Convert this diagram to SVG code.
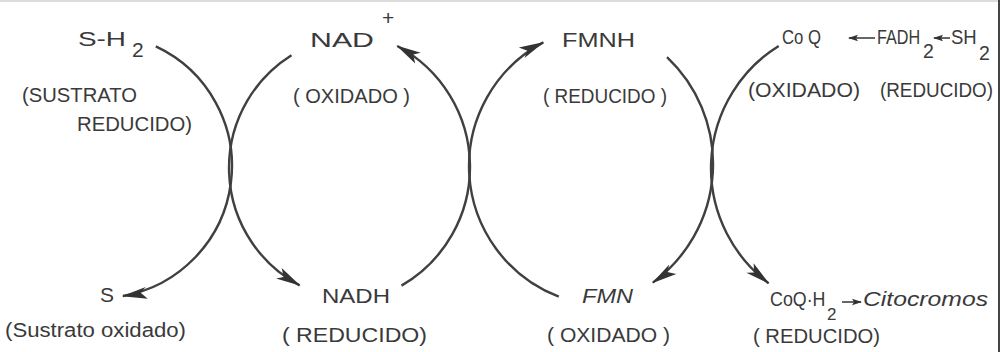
<svg xmlns="http://www.w3.org/2000/svg" width="1008" height="352" viewBox="0 0 1008 352">
<defs>
<style>
text{font-family:"Liberation Sans",Arial,sans-serif;fill:#3a3a3a}
.m{font-size:21px}
.l{font-size:19.5px}
.i{font-style:italic}
.arc{fill:none;stroke:#404040;stroke-width:2.4}
.sm{fill:none;stroke:#404040;stroke-width:1.6}
</style>
<marker id="ah" markerUnits="userSpaceOnUse" markerWidth="30" markerHeight="14" refX="0" refY="0" viewBox="-26 -7 30 14" orient="auto" overflow="visible">
<path d="M1,0 L-24,-7 L-18,0 L-24,5 Z" fill="#333"/>
</marker>
<marker id="as" markerUnits="userSpaceOnUse" markerWidth="12" markerHeight="8" refX="0" refY="0" viewBox="-10 -4 12 8" orient="auto" overflow="visible">
<path d="M1,0 L-9,-3.2 L-7,0 L-9,3.2 Z" fill="#333"/>
</marker>
</defs>
<rect width="1008" height="352" fill="#fff"/>
<line x1="0" y1="1" x2="1000" y2="1" stroke="#dcdcdc" stroke-width="2"/>
<line x1="999" y1="0" x2="999" y2="352" stroke="#444" stroke-width="2"/>

<g id="connectors">
<path class="arc" d="M155.8,46.4 A132,132 0 0 1 122.9,296" marker-end="url(#ah)"/>
<path class="arc" d="M291.5,55.2 A133,133 0 0 0 299.6,285.4" marker-end="url(#ah)"/>
<path class="arc" d="M401.5,285.6 A137,137 0 0 0 397.3,46" marker-end="url(#ah)"/>
<path class="arc" d="M558.8,296.7 A140,140 0 0 1 543.3,42.4" marker-end="url(#ah)"/>
<path class="arc" d="M667,57.1 A147,147 0 0 1 652.8,282.6" marker-end="url(#ah)"/>
<path class="arc" d="M778.7,45.9 A144,144 0 0 0 768.6,283.2" marker-end="url(#ah)"/>
<line class="sm" x1="875" y1="38" x2="849" y2="38" marker-end="url(#as)"/>
<line class="sm" x1="950" y1="38" x2="934" y2="38" marker-end="url(#as)"/>
<line class="sm" x1="842" y1="302" x2="861" y2="302" marker-end="url(#as)"/>
</g>

<g id="sh2">
<text class="m" x="78" y="46"><tspan textLength="48" lengthAdjust="spacingAndGlyphs">S-H</tspan><tspan x="132" y="57">2</tspan></text>
<text class="l" x="22" y="102" textLength="115" lengthAdjust="spacingAndGlyphs">(SUSTRATO</text>
<text class="l" x="77" y="131" textLength="115" lengthAdjust="spacingAndGlyphs">REDUCIDO)</text>
</g>

<g id="nadplus">
<text class="m" x="310" y="47"><tspan textLength="64" lengthAdjust="spacingAndGlyphs">NAD</tspan><tspan x="382" y="25">+</tspan></text>
<text class="l" x="293" y="103" textLength="117" lengthAdjust="spacingAndGlyphs">( OXIDADO )</text>
</g>

<g id="fmnh">
<text class="m" x="562" y="47" textLength="73" lengthAdjust="spacingAndGlyphs">FMNH</text>
<text class="l" x="543" y="103" textLength="124" lengthAdjust="spacingAndGlyphs">( REDUCIDO )</text>
</g>

<g id="coq">
<text class="l" x="782" y="44" textLength="39" lengthAdjust="spacingAndGlyphs">Co Q</text>
<text class="l" x="748" y="97" textLength="112" lengthAdjust="spacingAndGlyphs">(OXIDADO)</text>
</g>

<g id="fadh2">
<text class="l" transform="translate(877,44) scale(0.83,1)">FADH</text>
<text class="l" x="923" y="58">2</text>
</g>

<g id="sh2b">
<text class="l" transform="translate(951,44) scale(0.95,1)">SH</text>
<text class="l" x="979" y="60">2</text>
<text class="l" x="880" y="97" textLength="113" lengthAdjust="spacingAndGlyphs">(REDUCIDO)</text>
</g>

<g id="s">
<text class="m" x="100" y="302">S</text>
<text class="l" x="5" y="337" textLength="181" lengthAdjust="spacingAndGlyphs">(Sustrato oxidado)</text>
</g>

<g id="nadh">
<text class="m" x="322" y="303" textLength="68" lengthAdjust="spacingAndGlyphs">NADH</text>
<text class="l" x="282" y="342" textLength="145" lengthAdjust="spacingAndGlyphs">( REDUCIDO)</text>
</g>

<g id="fmn">
<text class="m i" x="582" y="303" textLength="51" lengthAdjust="spacingAndGlyphs">FMN</text>
<text class="l" x="547" y="342" textLength="123" lengthAdjust="spacingAndGlyphs">( OXIDADO )</text>
</g>

<g id="coqh2">
<text class="m" transform="translate(770,306) scale(0.85,1)">CoQ·H</text>
<text x="827" y="320" style="font-size:17px">2</text>
<text class="l" x="753" y="343" textLength="127" lengthAdjust="spacingAndGlyphs">( REDUCIDO)</text>
</g>

<g id="citocromos">
<text class="i" style="font-size:20px" x="863" y="306" textLength="125" lengthAdjust="spacingAndGlyphs">Citocromos</text>
</g>
</svg>
